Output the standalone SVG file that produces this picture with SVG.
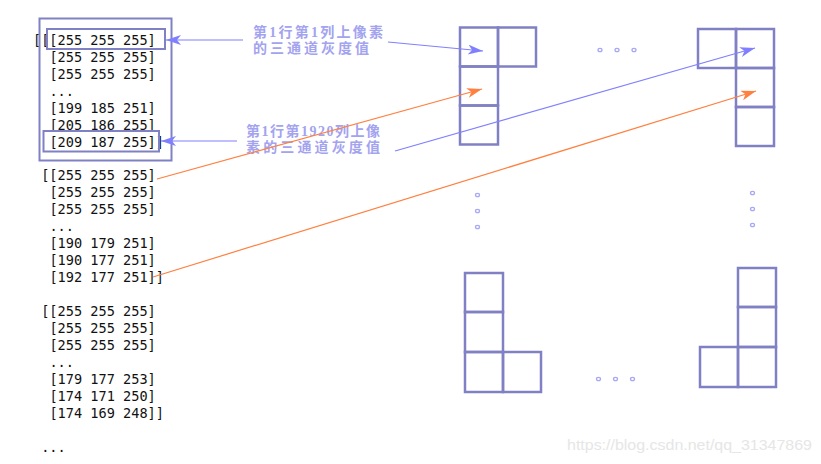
<svg xmlns="http://www.w3.org/2000/svg" width="821" height="464" viewBox="0 0 821 464">
<style>
.code{font-family:"DejaVu Sans Mono",monospace;font-size:13.6px;fill:#111}
.lbl{font-family:"Liberation Serif","Noto Sans CJK SC",serif;font-size:14px;font-weight:bold;fill:#a3a3ef}
.box{fill:none;stroke:#8080c4;stroke-width:2}
.cell{fill:none;stroke:#8080c4;stroke-width:2.5}
.dot{fill:none;stroke:#a8a8f4;stroke-width:1.3}
.ab{stroke:#8080ff;stroke-width:1.2;fill:none}
.ao{stroke:#ff8040;stroke-width:1.2;fill:none}
.wm{font-family:"Liberation Sans",Arial,sans-serif;font-size:15px;fill:#e6e6e6}
</style>
<defs>
<marker id="mb" markerUnits="userSpaceOnUse" markerWidth="18" markerHeight="12" refX="15" refY="5" orient="auto"><path d="M0,0 L15,5 L0,10 L4,5 Z" fill="#8080ff"/></marker>
<marker id="mo" markerUnits="userSpaceOnUse" markerWidth="18" markerHeight="12" refX="15" refY="5" orient="auto"><path d="M0,0 L15,5 L0,10 L4,5 Z" fill="#ff8040"/></marker>
</defs>
<rect width="821" height="464" fill="#fff"/>
<g id="code">
<text class="code" x="33" y="45">[[[255 255 255]</text>
<text class="code" x="49.4" y="62">[255 255 255]</text>
<text class="code" x="49.4" y="79">[255 255 255]</text>
<text class="code" x="49.4" y="96">...</text>
<text class="code" x="49.4" y="113">[199 185 251]</text>
<text class="code" x="49.4" y="130">[205 186 255]</text>
<text class="code" x="49.4" y="147">[209 187 255]]</text>
<text class="code" x="41.2" y="180">[[255 255 255]</text>
<text class="code" x="49.4" y="197">[255 255 255]</text>
<text class="code" x="49.4" y="214">[255 255 255]</text>
<text class="code" x="49.4" y="231">...</text>
<text class="code" x="49.4" y="248">[190 179 251]</text>
<text class="code" x="49.4" y="265">[190 177 251]</text>
<text class="code" x="49.4" y="282">[192 177 251]]</text>
<text class="code" x="41.2" y="316">[[255 255 255]</text>
<text class="code" x="49.4" y="333">[255 255 255]</text>
<text class="code" x="49.4" y="350">[255 255 255]</text>
<text class="code" x="49.4" y="367">...</text>
<text class="code" x="49.4" y="384">[179 177 253]</text>
<text class="code" x="49.4" y="401">[174 171 250]</text>
<text class="code" x="49.4" y="418">[174 169 248]]</text>
<text class="code" x="41.2" y="452">...</text>
</g>
<g id="boxes">
<rect class="box" x="39.5" y="18.5" width="132" height="142"/>
<rect class="box" x="47" y="29" width="118" height="20"/>
<rect class="box" x="43.5" y="131" width="115.5" height="20.5"/>
</g>
<g id="labels">
<text class="lbl"><tspan x="253" y="37" textLength="130" lengthAdjust="spacing">第1行第1列上像素</tspan><tspan x="253" y="53" textLength="116" lengthAdjust="spacing">的三通道灰度值</tspan></text>
<text class="lbl"><tspan x="246" y="136" textLength="134" lengthAdjust="spacing">第1行第1920列上像</tspan><tspan x="246" y="152" textLength="134" lengthAdjust="spacing">素的三通道灰度值</tspan></text>
</g>
<g id="grid-tl">
<rect class="cell" x="460" y="27.5" width="38" height="39"/>
<rect class="cell" x="498" y="27.5" width="38" height="39"/>
<rect class="cell" x="460" y="66.5" width="38" height="39"/>
<rect class="cell" x="460" y="105.5" width="38" height="39"/>
</g>
<g id="grid-tr">
<rect class="cell" x="698" y="29" width="38" height="39"/>
<rect class="cell" x="736" y="29" width="38" height="39"/>
<rect class="cell" x="736" y="68" width="38" height="39"/>
<rect class="cell" x="736" y="107" width="38" height="39"/>
</g>
<g id="grid-bl">
<rect class="cell" x="465" y="273" width="38" height="39"/>
<rect class="cell" x="465" y="312" width="38" height="40"/>
<rect class="cell" x="465" y="352" width="38" height="40"/>
<rect class="cell" x="503" y="352" width="38" height="40"/>
</g>
<g id="grid-br">
<rect class="cell" x="738" y="268" width="38" height="39"/>
<rect class="cell" x="738" y="307" width="38" height="40"/>
<rect class="cell" x="700" y="347" width="38" height="40"/>
<rect class="cell" x="738" y="347" width="38" height="40"/>
</g>
<g id="dots">
<ellipse class="dot" cx="600" cy="50" rx="2" ry="1.7"/>
<ellipse class="dot" cx="617" cy="50" rx="2" ry="1.7"/>
<ellipse class="dot" cx="634" cy="50" rx="2" ry="1.7"/>
<ellipse class="dot" cx="477.5" cy="195" rx="2" ry="1.7"/>
<ellipse class="dot" cx="477.5" cy="211" rx="2" ry="1.7"/>
<ellipse class="dot" cx="477.5" cy="227" rx="2" ry="1.7"/>
<ellipse class="dot" cx="752.5" cy="193" rx="2" ry="1.7"/>
<ellipse class="dot" cx="752.5" cy="209" rx="2" ry="1.7"/>
<ellipse class="dot" cx="752.5" cy="225" rx="2" ry="1.7"/>
<ellipse class="dot" cx="598.5" cy="379" rx="2" ry="1.7"/>
<ellipse class="dot" cx="615.5" cy="379" rx="2" ry="1.7"/>
<ellipse class="dot" cx="632.5" cy="379" rx="2" ry="1.7"/>
</g>
<g id="connectors">
<line class="ab" x1="243" y1="40" x2="166" y2="40" marker-end="url(#mb)"/>
<line class="ab" x1="237" y1="141" x2="161" y2="141" marker-end="url(#mb)"/>
<line class="ab" x1="388" y1="42" x2="483" y2="51" marker-end="url(#mb)"/>
<line class="ab" x1="395" y1="151" x2="755" y2="48" marker-end="url(#mb)"/>
<line class="ao" x1="157" y1="179" x2="482" y2="89" marker-end="url(#mo)"/>
<line class="ao" x1="153" y1="277" x2="756" y2="91" marker-end="url(#mo)"/>
</g>
<text class="wm" x="567" y="450" textLength="245" lengthAdjust="spacingAndGlyphs">https://blog.csdn.net/qq_31347869</text>
</svg>
